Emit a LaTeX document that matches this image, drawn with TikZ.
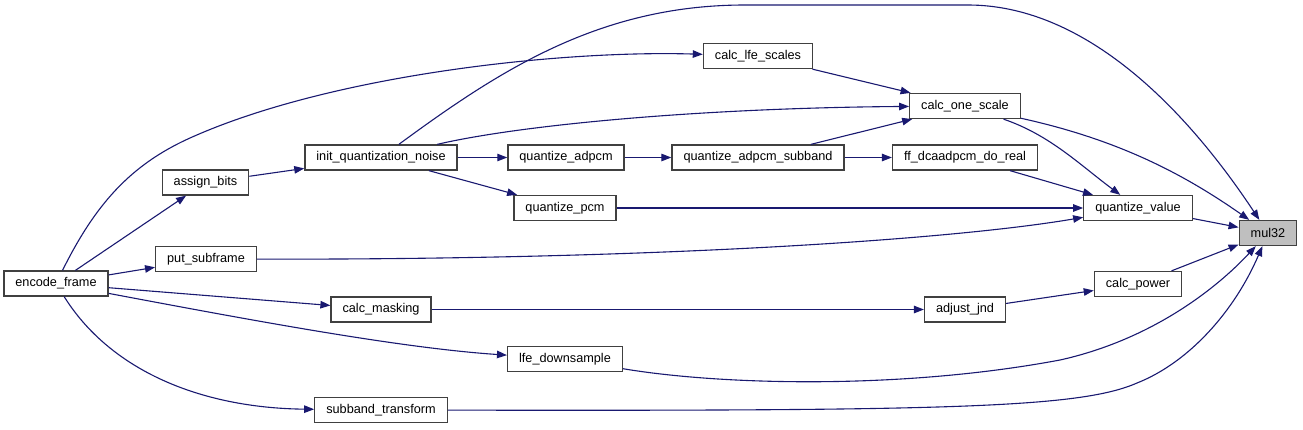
\documentclass[tikz,border=0pt]{standalone}
\usepackage{fontspec}
\setmainfont{Liberation Sans}
\usepackage{tikz}
\usetikzlibrary{arrows.meta,positioning}
\definecolor{edgec}{HTML}{191970}
\definecolor{framec}{HTML}{404040}
\definecolor{markc}{HTML}{BFBFBF}
\tikzset{
  call/.style={-{Triangle[length=10pt,width=7.5pt]},line width=1.1pt,edgec},
  fn/.style={draw=framec,line width=1.3pt,fill=white,inner xsep=11.5pt,inner ysep=0pt,minimum height=25pt,font=\fontsize{12.7}{15}\selectfont}
}

\begin{document}
\begin{tikzpicture}[x=1pt,y=-1pt]
\useasboundingbox (0,0) rectangle (1303,429);
% functions
\node[fn] (ef) at (56,283.5) {encode\_frame};
\node[fn] (ab) at (205.5,182.5) {assign\_bits};
\node[fn] (ps) at (206,259) {put\_subframe};
\node[fn] (iqn) at (381,157.5) {init\_quantization\_noise};
\node[fn] (qadpcm) at (566,157.5) {quantize\_adpcm};
\node[fn] (qas) at (758,157.5) {quantize\_adpcm\_subband};
\node[fn] (ffd) at (965,157.5) {ff\_dcaadpcm\_do\_real};
\node[fn] (lfe) at (758,56) {calc\_lfe\_scales};
\node[fn] (cos) at (965,106) {calc\_one\_scale};
\node[fn] (qpcm) at (565,208) {quantize\_pcm};
\node[fn] (qv) at (1138,208) {quantize\_value};
\node[fn,fill=markc] (mul) at (1268,233) {mul32};
\node[fn] (cp) at (1138,284) {calc\_power};
\node[fn] (aj) at (965,309.5) {adjust\_jnd};
\node[fn] (cm) at (381,309.5) {calc\_masking};
\node[fn] (lds) at (565,359) {lfe\_downsample};
\node[fn] (sbt) at (381,410) {subband\_transform};
% calls
\draw[call] (ef) .. controls (95,205) and (130,165) .. (190,138) .. controls (330,75) and (560,50) .. (lfe);
\draw[call] (ef) -- (ab);
\draw[call] (ef) -- (ps);
\draw[call] (ef) -- (cm);
\draw[call] (ef) .. controls (250,320) and (400,348) .. (lds);
\draw[call] (ef) .. controls (110,370) and (200,408) .. (sbt);
\draw[call] (ab) -- (iqn);
\draw[call] (iqn) .. controls (500,70) and (600,5) .. (745,5) -- (968,5) .. controls (1080,5) and (1180,100) .. (mul);
\draw[call] (iqn) .. controls (520,125) and (700,108) .. (cos);
\draw[call] (iqn) -- (qadpcm);
\draw[call] (iqn) -- (qpcm);
\draw[call] (qadpcm) -- (qas);
\draw[call] (qas) -- (cos);
\draw[call] (qas) -- (ffd);
\draw[call] (lfe) -- (cos);
\draw[call] (cos) .. controls (1120,140) and (1185,175) .. (mul);
\draw[call] (cos) .. controls (1050,135) and (1080,165) .. (qv);
\draw[call] (ffd) -- (qv);
\draw[call] (qpcm) -- (qv);
\draw[call] (ps) .. controls (650,260) and (950,240) .. (qv);
\draw[call] (qv) -- (mul);
\draw[call] (cp) -- (mul);
\draw[call] (aj) -- (cp);
\draw[call] (cm) -- (aj);
\draw[call] (lds) .. controls (720,385) and (900,390) .. (1060,360) .. controls (1150,340) and (1215,290) .. (mul);
\draw[call] (sbt) .. controls (950,411) and (1080,408) .. (1137,383) .. controls (1190,362) and (1235,310) .. (mul);
\end{tikzpicture}
\end{document}
